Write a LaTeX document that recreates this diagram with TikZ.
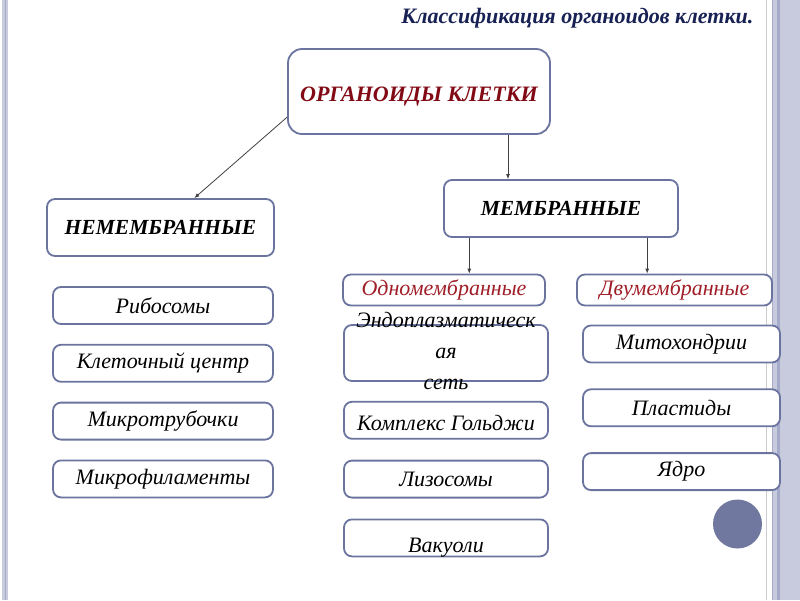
\documentclass[tikz,border=0pt]{standalone}
\usepackage{fontspec}
\setmainfont{Liberation Serif}
\usetikzlibrary{positioning, arrows.meta}

\definecolor{framecol}{RGB}{106,116,158}
\definecolor{titlecol}{RGB}{23,33,84}
\definecolor{rootcol}{RGB}{130,10,20}
\definecolor{subcol}{RGB}{160,30,40}
\definecolor{stripecol}{RGB}{200,203,221}
\definecolor{stripedark}{RGB}{165,170,200}
\definecolor{dotcol}{RGB}{112,120,160}

\begin{document}
\begin{tikzpicture}[
    x=1pt, y=-1pt,
    box/.style={
      rectangle, draw=framecol, line width=1.8pt, rounded corners=8pt,
      fill=white, inner sep=0pt, align=center,
      font=\fontsize{22}{26}\selectfont\itshape,
    },
    head/.style   ={box, minimum height=57pt, font=\fontsize{21.5}{25}\selectfont\bfseries\itshape},
    rootbox/.style={box, rounded corners=14pt, minimum width=262pt, minimum height=85pt,
                    text=rootcol, font=\fontsize{22}{26}\selectfont\bfseries\itshape},
    kind/.style   ={box, minimum height=31pt, text=subcol},
    leftitem/.style ={box, minimum width=220pt, minimum height=37pt},
    miditem/.style  ={box, minimum width=204pt, minimum height=37pt},
    rightitem/.style={box, minimum width=197pt, minimum height=37pt},
    arrow/.style={-{Latex[length=5pt, width=4pt]}, line width=0.8pt, black!75},
]
\useasboundingbox (0,0) rectangle (800,600);

% slide decoration
\fill[stripecol] (2,0) rectangle (8,600);
\draw[stripedark, line width=1pt] (5,0) -- (5,600);
\draw[black!20, line width=0.8pt] (766,0) -- (766,600);
\fill[stripecol] (772,0) rectangle (800,600);
\fill[stripedark] (777,0) rectangle (780,600);
\draw[stripedark, line width=0.8pt] (772.5,0) -- (772.5,600);
\fill[dotcol] (737.5,524) circle (24.5);

\node[anchor=base east, text=titlecol, font=\fontsize{22}{26}\selectfont\bfseries\itshape]
    (title) at (757,23) {Классификация органоидов клетки.};

\node[rootbox, text height=19pt, text depth=0pt] (root) at (419,91.5) {ОРГАНОИДЫ КЛЕТКИ};
\node[head, minimum width=227pt] (nonmem) at (160.5,227.5) {НЕМЕМБРАННЫЕ};
\node[head, minimum width=234pt] (mem)    at (561,208.5)   {МЕМБРАННЫЕ};

\node[kind, minimum width=202pt] (single) at (444,290)   {Одномембранные};
\node[kind, minimum width=195pt] (double) at (674.5,290) {Двумембранные};

% non-membrane organelles
\node[leftitem] (ribo) at (163,305.5) {Рибосомы};
\node[leftitem, below=19pt of ribo]   (centr)  {Клеточный центр};
\node[leftitem, below=19pt of centr]  (tubul)  {Микротрубочки};
\node[leftitem, below=19pt of tubul]  (filam)  {Микрофиламенты};

% single-membrane organelles
\node[miditem, minimum height=56pt] (eps) at (446,353)
    {\smash{\raisebox{-5pt}{\begin{tabular}[c]{@{}c@{}}Эндоплазматическ\\[5pt]ая\\[5pt]сеть\end{tabular}}}};
\node[miditem, below=19pt of eps, text height=20pt, text depth=0pt] (golgi) {Комплекс Гольджи};
\node[miditem, below=20pt of golgi]  (lyso)  {Лизосомы};
\node[miditem, below=20pt of lyso, text height=29pt, text depth=0pt] (vacuo) {Вакуоли};

% double-membrane organelles
\node[rightitem] (mito) at (681.5,344) {Митохондрии};
\node[rightitem, below=25pt of mito]  (plast) {Пластиды};
\node[rightitem, below=25pt of plast] (nucl)  {Ядро};

\draw[arrow] (root.191) -- (nonmem.41);
\draw[arrow] (root.-26) -- (root.-26 |- mem.north);
\draw[arrow] (single.33 |- mem.south) -- (single.33);
\draw[arrow] (double.149 |- mem.south) -- (double.149);
\end{tikzpicture}
\end{document}
